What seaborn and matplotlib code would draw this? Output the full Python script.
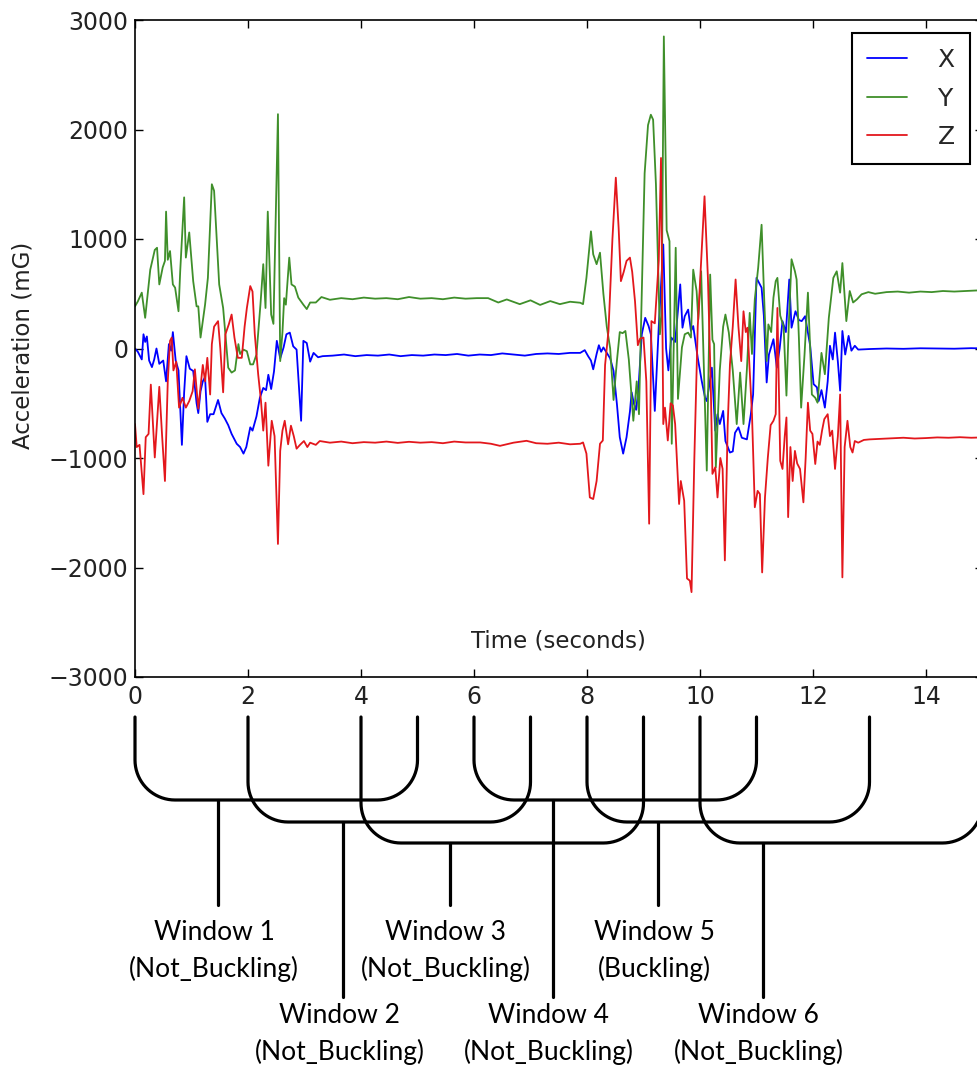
import numpy as np
import matplotlib
matplotlib.use("Agg")
import matplotlib.pyplot as plt
import seaborn as sns

# ── data ─────────────────────────────────────────────────────────────────────

x_time = [0.00, 0.05, 0.09, 0.12, 0.15, 0.18, 0.21, 0.25, 0.30, 0.34,
          0.38, 0.43, 0.50, 0.55, 0.60, 0.64, 0.67, 0.72, 0.77, 0.83,
          0.87, 0.91, 0.97, 1.03, 1.09, 1.12, 1.16, 1.20, 1.24, 1.28,
          1.33, 1.39, 1.44, 1.47, 1.53, 1.59, 1.65, 1.71, 1.80, 1.86,
          1.92, 1.97, 2.04, 2.08, 2.15, 2.21, 2.27, 2.32, 2.36, 2.41,
          2.46, 2.51, 2.57, 2.63, 2.68, 2.74, 2.80, 2.86, 2.94, 2.98,
          3.04, 3.10, 3.16, 3.24, 3.32, 3.50, 3.70, 3.90, 4.10, 4.30,
          4.50, 4.70, 4.90, 5.10, 5.30, 5.50, 5.70, 5.90, 6.10, 6.30,
          6.50, 6.70, 6.90, 7.10, 7.30, 7.50, 7.70, 7.88, 7.96, 8.02,
          8.07, 8.11, 8.17, 8.21, 8.25, 8.29, 8.35, 8.41, 8.47, 8.53,
          8.58, 8.64, 8.70, 8.76, 8.79, 8.83, 8.87, 8.91, 8.97, 9.03,
          9.09, 9.13, 9.20, 9.27, 9.35, 9.40, 9.44, 9.49, 9.56, 9.65,
          9.69, 9.73, 9.79, 9.84, 9.88, 9.96, 10.03, 10.09, 10.12, 10.16,
          10.21, 10.27, 10.31, 10.35, 10.41, 10.45, 10.53, 10.58, 10.62, 10.68,
          10.74, 10.83, 10.90, 10.94, 11.00, 11.09, 11.13, 11.18, 11.22, 11.30,
          11.36, 11.41, 11.46, 11.52, 11.58, 11.62, 11.69, 11.75, 11.80, 11.86,
          11.95, 12.01, 12.07, 12.10, 12.15, 12.21, 12.26, 12.30, 12.35, 12.39,
          12.44, 12.48, 12.52, 12.57, 12.63, 12.68, 12.74, 12.80, 13.00, 13.30,
          13.60, 13.90, 14.20, 14.50, 14.80, 15.10]
x_accel = [0, -30, -70, -100, 130, 60, 110, -110, -170, -100,
           0, -140, -110, -300, 40, -20, 150, -110, -200, -880,
           -400, -70, -185, -205, -500, -590, -390, -300, -260, -670,
           -600, -600, -520, -470, -590, -640, -700, -780, -870, -900,
           -960, -900, -720, -750, -620, -450, -360, -380, -240, -370,
           -210, 70, -90, 10, 130, 145, 20, -10, -660, 70,
           50, -120, -40, -80, -70, -65, -55, -70, -60, -65,
           -55, -70, -60, -65, -55, -60, -50, -65, -55, -60,
           -45, -55, -65, -50, -45, -50, -40, -40, -15, -70,
           -110, -190, -50, 30, -30, 10, -40, -90, -205, -510,
           -810, -960, -810, -575, -400, -505, -560, -370, 130, 280,
           205, 130, -570, 200, 950, 0, -200, 100, 60, 585,
           190, 295, 355, 160, 205, -85, -295, -450, -480, -350,
           -175, -750, -600, -690, -570, -845, -950, -940, -770, -720,
           -815, -830, -600, -420, 645, 555, 300, -310, -55, 85,
           -175, 0, 250, 150, 630, 190, 340, 260, 250, 295,
           25, -325, -355, -480, -380, -540, -300, 25, -100, 145,
           -120, -385, 160, -55, 115, -20, 25, -10, -5, 0,
           -3, 2, 0, -2, 3, 0]

y_time = [0.00, 0.05, 0.12, 0.18, 0.27, 0.35, 0.39, 0.43, 0.49, 0.53,
          0.55, 0.58, 0.62, 0.67, 0.71, 0.77, 0.80, 0.87, 0.90, 0.96,
          1.03, 1.09, 1.12, 1.16, 1.24, 1.29, 1.36, 1.40, 1.49, 1.56,
          1.65, 1.71, 1.77, 1.83, 1.86, 1.92, 1.98, 2.04, 2.09, 2.15,
          2.22, 2.27, 2.31, 2.35, 2.41, 2.45, 2.53, 2.57, 2.61, 2.64,
          2.67, 2.73, 2.77, 2.83, 2.89, 2.98, 3.04, 3.10, 3.20, 3.30,
          3.45, 3.65, 3.85, 4.05, 4.25, 4.45, 4.65, 4.85, 5.05, 5.25,
          5.45, 5.65, 5.85, 6.05, 6.25, 6.43, 6.58, 6.81, 7.00, 7.17,
          7.35, 7.52, 7.70, 7.88, 7.93, 7.99, 8.07, 8.11, 8.17, 8.23,
          8.29, 8.35, 8.41, 8.47, 8.53, 8.58, 8.63, 8.68, 8.74, 8.82,
          8.88, 8.92, 8.96, 9.02, 9.08, 9.13, 9.17, 9.22, 9.29, 9.32,
          9.36, 9.41, 9.46, 9.50, 9.57, 9.61, 9.68, 9.73, 9.79, 9.84,
          9.88, 9.94, 9.97, 10.02, 10.12, 10.18, 10.22, 10.25, 10.28, 10.35,
          10.41, 10.45, 10.51, 10.58, 10.65, 10.71, 10.77, 10.83, 10.88, 10.92,
          10.97, 11.03, 11.09, 11.14, 11.18, 11.21, 11.26, 11.30, 11.34, 11.37,
          11.42, 11.48, 11.53, 11.57, 11.62, 11.68, 11.71, 11.75, 11.79, 11.85,
          11.91, 11.95, 11.98, 12.04, 12.08, 12.15, 12.21, 12.28, 12.36, 12.42,
          12.48, 12.52, 12.59, 12.65, 12.71, 12.78, 12.86, 12.98, 13.10, 13.30,
          13.50, 13.70, 13.90, 14.10, 14.30, 14.50, 14.70, 14.90, 15.10]
y_accel = [385, 430, 510, 280, 720, 900, 920, 585, 740, 800,
           1250, 810, 890, 585, 555, 340, 705, 1380, 830, 1060,
           615, 385, 385, 100, 400, 645, 1500, 1440, 585, 370,
           -175, -220, -200, 40, -50, -10, -25, -145, -145, -55,
           400, 770, 370, 1250, 310, 225, 2140, -115, 150, 460,
           400, 830, 585, 565, 465, 400, 360, 420, 420, 470,
           445, 460, 450, 465, 455, 460, 450, 470, 455, 460,
           450, 465, 455, 460, 460, 420, 448, 405, 440, 398,
           433, 405, 427, 418, 405, 645, 1070, 860, 770, 875,
           500, 200, 0, -470, -110, 150, 140, 160, -100, -660,
           -300, -600, 300, 1600, 2040, 2135, 2090, 1500, 130, 300,
           2850, 1080, 980, -870, 920, -460, 10, 130, 145, 100,
           720, 525, 265, 705, -1115, 675, 80, 40, -1085, -200,
           200, 310, 145, -200, -690, -220, -690, -190, 325, -50,
           450, 740, 1130, 400, -115, 220, 150, 465, 615, 645,
           300, 200, -430, 200, 815, 705, 630, 100, -540, -55,
           510, 0, -420, -450, -495, -40, -235, 280, 645, 705,
           510, 780, 250, 525, 420, 450, 495, 515, 500, 515,
           520, 510, 520, 515, 525, 520, 525, 530, 525]

z_time = [0.00, 0.03, 0.08, 0.15, 0.19, 0.24, 0.28, 0.35, 0.43, 0.48,
          0.53, 0.58, 0.62, 0.65, 0.68, 0.73, 0.78, 0.84, 0.90, 0.96,
          1.02, 1.06, 1.12, 1.16, 1.20, 1.24, 1.28, 1.33, 1.36, 1.40,
          1.47, 1.51, 1.56, 1.60, 1.66, 1.71, 1.76, 1.82, 1.89, 1.94,
          1.98, 2.04, 2.08, 2.12, 2.18, 2.23, 2.27, 2.31, 2.36, 2.42,
          2.47, 2.53, 2.57, 2.61, 2.65, 2.71, 2.76, 2.81, 2.86, 2.92,
          2.99, 3.05, 3.10, 3.20, 3.27, 3.45, 3.65, 3.85, 4.05, 4.25,
          4.45, 4.65, 4.85, 5.05, 5.25, 5.45, 5.65, 5.85, 6.11, 6.30,
          6.46, 6.70, 6.93, 7.10, 7.30, 7.50, 7.70, 7.88, 7.93, 7.99,
          8.05, 8.11, 8.17, 8.23, 8.28, 8.32, 8.38, 8.45, 8.51, 8.56,
          8.60, 8.65, 8.70, 8.76, 8.80, 8.85, 8.90, 8.94, 9.00, 9.05,
          9.10, 9.14, 9.20, 9.27, 9.31, 9.35, 9.38, 9.43, 9.48, 9.52,
          9.56, 9.63, 9.66, 9.72, 9.77, 9.82, 9.85, 9.90, 9.96, 10.03,
          10.08, 10.14, 10.19, 10.22, 10.27, 10.31, 10.36, 10.40, 10.44, 10.49,
          10.53, 10.58, 10.63, 10.68, 10.73, 10.77, 10.81, 10.84, 10.88, 10.92,
          10.97, 11.02, 11.06, 11.10, 11.15, 11.20, 11.25, 11.30, 11.34, 11.37,
          11.42, 11.46, 11.50, 11.53, 11.56, 11.60, 11.64, 11.68, 11.72, 11.77,
          11.83, 11.87, 11.91, 11.95, 11.99, 12.04, 12.08, 12.12, 12.16, 12.20,
          12.26, 12.30, 12.34, 12.39, 12.44, 12.48, 12.52, 12.56, 12.61, 12.66,
          12.70, 12.74, 12.80, 12.90, 13.00, 13.20, 13.40, 13.60, 13.80, 14.00,
          14.20, 14.40, 14.60, 14.80, 15.00, 15.20]
z_accel = [-690, -900, -880, -1330, -810, -780, -330, -995, -350, -800,
           -1210, -300, 70, 100, -200, -120, -540, -450, -540, -480,
           -390, -190, -550, -350, -150, -300, -85, -420, 40, 200,
           250, 0, -400, 130, 220, 310, 100, -85, -85, 200,
           370, 570, 520, 130, -235, -480, -750, -495, -1070, -660,
           -800, -1785, -935, -750, -660, -875, -705, -800, -915, -880,
           -845, -900, -860, -880, -845, -860, -850, -865, -855, -860,
           -850, -862, -852, -860, -855, -865, -850, -858, -858, -870,
           -889, -860, -843, -865, -870, -860, -875, -870, -858, -960,
           -1360, -1375, -1210, -870, -840, -150, 160, 1000, 1560, 1100,
           615, 700, 800, 830, 700, 430, 30, 90, 100, -300,
           -1600, 250, 230, 800, 1740, -690, -540, -840, -500, -520,
           -690, -1420, -1210, -1390, -2100, -2120, -2225, -1000, 200, 900,
           1390, 645, -325, -1145, -1085, -1360, -1000, -1100, -1935, -700,
           -145, 200, 630, 200, -115, 340, 150, 190, -200, -600,
           -1450, -1300, -1330, -2045, -1360, -1000, -700, -660, -600, 370,
           -1025, -1100, -800, -630, -1540, -900, -1210, -935, -1050, -1100,
           -1405, -1000, -495, -750, -780, -1055, -850, -880, -750, -645,
           -600, -800, -750, -1100, -800, -420, -2090, -900, -660, -900,
           -950, -845, -860, -835, -830, -825, -820, -815, -822, -818,
           -812, -815, -810, -815, -812, -810]

# windows: start second, length, where the stem meets the bracket, label
win_start = [0, 2, 4, 6, 8, 10]
win_length = 5
win_stem = [1.47, 3.69, 5.57, 7.39, 9.26, 11.11]
win_names = ["Window 1", "Window 2", "Window 3", "Window 4", "Window 5", "Window 6"]
win_status = ["Not_Buckling", "Not_Buckling", "Not_Buckling",
              "Not_Buckling", "Buckling", "Not_Buckling"]

# ── style ────────────────────────────────────────────────────────────────────

sns.set_theme(style="ticks")
plt.rcParams["font.family"] = ["DejaVu Sans"]
plt.rcParams["axes.edgecolor"] = "black"
plt.rcParams["axes.linewidth"] = 1.2

W, H = 977, 1069
fig = plt.figure(figsize=(W / 100, H / 100), dpi=100)

x0_px, px_per_s = 135, 56.5
ax_left = x0_px / W
ax_width = 15 * px_per_s / W
ax = fig.add_axes([ax_left, 1 - 677 / H, ax_width, (677 - 20) / H])

colors = {"X": "#0000ff", "Y": "#3f8f2a", "Z": "#e3171c"}
for name, t, v in [("X", x_time, x_accel), ("Y", y_time, y_accel), ("Z", z_time, z_accel)]:
    sns.lineplot(x=t, y=v, ax=ax, color=colors[name], lw=1.3, label=name,
                 estimator=None, sort=False)

ax.set_xlim(0, 15)
ax.set_ylim(-3000, 3000)
ax.set_xticks(range(0, 15, 2))
ax.set_yticks(range(-3000, 3001, 1000))
ax.tick_params(direction="in", top=True, right=True, length=6, width=1,
               labelsize=17, colors="black", labelcolor="#222222")
ax.tick_params(axis="x", pad=6)
ax.tick_params(axis="y", pad=5)
for s in ax.spines.values():
    s.set_visible(True)
    s.set_color("black")

ax.set_xlabel("Time (seconds)", fontsize=16.5, color="#222222")
ax.xaxis.set_label_coords(0.5, 0.072)
ax.set_ylabel("Acceleration (mG)", fontsize=16.5, color="#222222")
ax.yaxis.set_label_coords(-0.118, 0.505)

leg = ax.legend(loc="upper right", fontsize=18, frameon=True, fancybox=False,
                handlelength=1.6, handletextpad=1.2, labelspacing=0.58,
                borderpad=0.6, borderaxespad=0.52, framealpha=1)
leg.get_frame().set_edgecolor("black")
leg.get_frame().set_linewidth(1.5)

# ── window brackets under the time axis ──────────────────────────────────────

bx = fig.add_axes([ax_left, 0, ax_width, (H - 677) / H])
bx.set_xlim(0, 15)
bx.set_ylim(H - 677, 0)   # y counts pixels below the time axis
bx.axis("off")

top_y = 40
levels = [123, 145, 166]
radius = 40
rx = radius / px_per_s
stem_end = [228, 320]
label_y = [274, 357]

for i, (t0, stem, name, status) in enumerate(zip(win_start, win_stem, win_names, win_status)):
    t1 = t0 + win_length
    lvl = levels[i % 3]
    a1 = np.linspace(np.pi, np.pi / 2, 20)
    a2 = np.linspace(np.pi / 2, 0, 20)
    xs = np.concatenate([[t0], t0 + rx + rx * np.cos(a1), t1 - rx + rx * np.cos(a2), [t1]])
    ys = np.concatenate([[top_y], lvl - radius + radius * np.sin(a1),
                         lvl - radius + radius * np.sin(a2), [top_y]])
    bx.plot(xs, ys, color="black", lw=2.3, solid_joinstyle="round", clip_on=False)
    bx.plot([stem, stem], [lvl, stem_end[i % 2]], color="black", lw=2.3, clip_on=False)
    bx.text(stem - 0.07, label_y[i % 2], f"{name}\n({status})", ha="center", va="center",
            fontsize=19, family=["Lato", "DejaVu Sans"], linespacing=1.5, color="black")

fig.savefig("out.png", dpi=100)
